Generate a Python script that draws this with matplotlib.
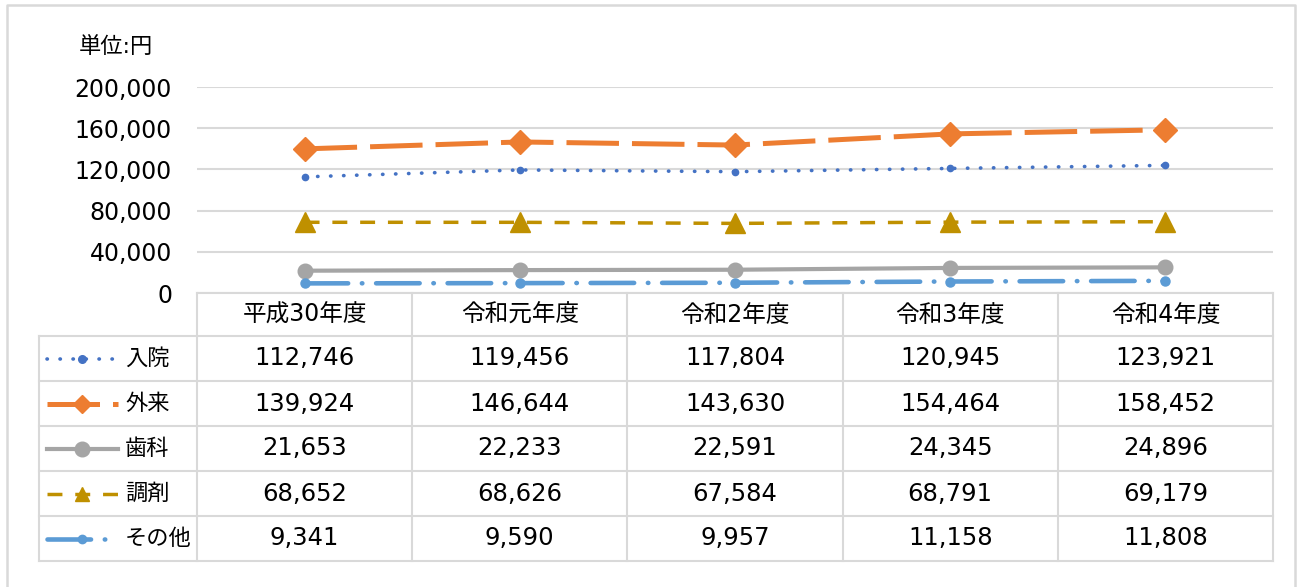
import numpy as np
import matplotlib
matplotlib.use("Agg")
import matplotlib.pyplot as plt

plt.rcParams['font.family'] = ['DejaVu Sans', 'Noto Sans CJK JP']

# data
years = ['平成30年度', '令和元年度', '令和2年度', '令和3年度', '令和4年度']
names = ['入院', '外来', '歯科', '調剤', 'その他']
nyuin = [112746, 119456, 117804, 120945, 123921]
gairai = [139924, 146644, 143630, 154464, 158452]
shika = [21653, 22233, 22591, 24345, 24896]
chozai = [68652, 68626, 67584, 68791, 69179]
sonota = [9341, 9590, 9957, 11158, 11808]
yticks = [0, 40000, 80000, 120000, 160000, 200000]

series = [nyuin, gairai, shika, chozai, sonota]
styles = [
    dict(color='#4472C4', lw=2.6, ls=(0, (0.1, 3.5)), dash_capstyle='round',
         marker='o', ms=4.5),
    dict(color='#ED7D31', lw=3.6, ls=(0, (10.5, 2.6)), marker='D', ms=12),
    dict(color='#A5A5A5', lw=3.0, ls='-', marker='o', ms=10.5),
    dict(color='#BF9000', lw=2.5, ls=(0, (4.3, 3.7)), marker='^', ms=14),
    dict(color='#5B9BD5', lw=3.3, ls=(0, (9.5, 3.0, 0.1, 3.0)), dash_capstyle='round',
         marker='o', ms=6.5),
]
# smaller markers in the table legend
legend_ms = [5.5, 9, 10.5, 10.5, 6]

W, H = 1297, 587
grid_c = '#D9D9D9'
fig = plt.figure(figsize=(W / 100, H / 100), dpi=100)

# background frame / table layer
ov = fig.add_axes([0, 0, 1, 1])
ov.set_xlim(0, W)
ov.set_ylim(H, 0)
ov.axis('off')
ov.plot([7, 7, 1295, 1295], [H + 5, 5, 5, H + 5], color=grid_c, lw=1.8)

# chart
ax = fig.add_axes([197 / W, 1 - 293 / H, (1273 - 197) / W, (293 - 87) / H])
ax.set_facecolor('none')
ax.set_xlim(0, 5)
ax.set_ylim(0, 200000)
ax.set_yticks(yticks)
ax.set_yticklabels([f'{v:,}' for v in yticks], fontsize=17)
ax.set_xticks([])
ax.tick_params(axis='y', length=0, pad=18)
ax.yaxis.grid(True, color=grid_c, lw=1.5)
ax.set_axisbelow(True)
for s in ax.spines.values():
    s.set_visible(False)

x = np.arange(len(years)) + 0.5
for vals, st in zip(series, styles):
    ax.plot(x, vals, clip_on=False, **st)

fig.text(116 / W, 1 - 47 / H, '単位:円', fontsize=16, ha='center', va='center')

# data table
col_w = (1273 - 197) / 5
col_edges = [197 + i * col_w for i in range(6)]
row_edges = [293, 336, 381, 426, 471, 516, 561]
ov.plot([197, 1273], [293, 293], color=grid_c, lw=1.5)
for y in row_edges[1:]:
    ov.plot([39, 1273], [y, y], color=grid_c, lw=1.5)
ov.plot([39, 39], [336, 561], color=grid_c, lw=1.5)
for cx in col_edges:
    ov.plot([cx, cx], [293, 561], color=grid_c, lw=1.5)

for j, yr in enumerate(years):
    cx = (col_edges[j] + col_edges[j + 1]) / 2
    ov.text(cx, (row_edges[0] + row_edges[1]) / 2, yr, fontsize=17,
            ha='center', va='center')

for i, (name, vals, st) in enumerate(zip(names, series, styles)):
    cy = (row_edges[i + 1] + row_edges[i + 2]) / 2
    lst = dict(st, ms=legend_ms[i])
    ov.plot([47, 82, 118], [cy, cy, cy], markevery=[1], **lst)
    ov.text(125, cy, name, fontsize=16, ha='left', va='center')
    for j, v in enumerate(vals):
        cx = (col_edges[j] + col_edges[j + 1]) / 2
        ov.text(cx, cy, f'{v:,}', fontsize=17.5, ha='center', va='center')

fig.savefig('out.png', dpi=100, facecolor='white')
